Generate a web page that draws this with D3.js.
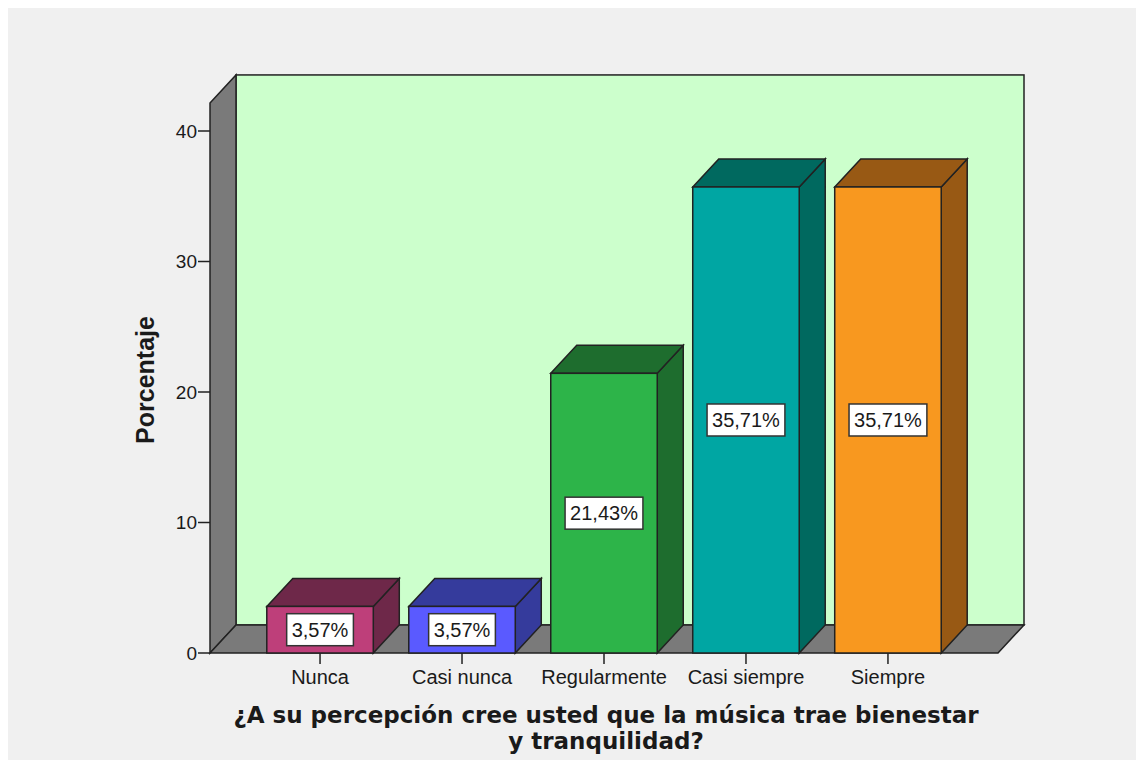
<!DOCTYPE html>
<meta charset="utf-8">
<style>
body { margin: 0; background: #fff; }
text { font-family: "Liberation Sans", Arial, sans-serif; fill: #1a1a1a; }
.title { font-weight: bold; }
</style>
<body>
<svg width="1136" height="760"></svg>
</body>
<script src="https://d3js.org/d3.v7.min.js"></script>
<script>

var categories = ["Nunca", "Casi nunca", "Regularmente", "Casi siempre", "Siempre"];
var percents = [3.57, 3.57, 21.43, 35.71, 35.71];
var frontColors = ["#be3f7a", "#5a5aff", "#2db449", "#00a6a3", "#f8981f"];
var darkColors = ["#6e2849", "#353b9c", "#1e6d2e", "#00695f", "#985914"];
var yTicks = [0, 10, 20, 30, 40];
var yTitle = "Porcentaje";
var xTitle = ["¿A su percepción cree usted que la música trae bienestar", "y tranquilidad?"];

var svg = d3.select("svg"),
    width = +svg.attr("width"),
    height = +svg.attr("height");

// depth of the 3d effect
var dx = 26, dy = 28;
var left = 210, right = 998;

var y = d3.scaleLinear().domain([0, 40]).range([653, 131]);
var yTop = 42.15;

var x = d3.scaleBand()
    .domain(categories)
    .range([left, right])
    .paddingInner(0.25)
    .paddingOuter(0.4);

var fmt = function(v) { return d3.format(".2f")(v).replace(".", ",") + "%"; };

svg.append("rect")
    .attr("x", 8).attr("y", 8)
    .attr("width", width - 8).attr("height", height - 8)
    .attr("fill", "#f0f0f0");

var stroke = "#222";

// back wall
svg.append("rect")
    .attr("x", left + dx).attr("y", y(yTop) - dy)
    .attr("width", right - left).attr("height", y(0) - y(yTop))
    .attr("fill", "#ccffcc")
    .attr("stroke", stroke).attr("stroke-width", 1.5);

// side wall
svg.append("polygon")
    .attr("points", [[left, y(yTop)], [left + dx, y(yTop) - dy], [left + dx, y(0) - dy], [left, y(0)]].join(" "))
    .attr("fill", "#7a7a7a")
    .attr("stroke", stroke).attr("stroke-width", 1.5);

// floor
svg.append("polygon")
    .attr("points", [[left, y(0)], [left + dx, y(0) - dy], [right + dx, y(0) - dy], [right, y(0)]].join(" "))
    .attr("fill", "#7a7a7a")
    .attr("stroke", stroke).attr("stroke-width", 1.5);

// y axis ticks
var yt = svg.append("g");
yt.selectAll("line").data(yTicks).enter().append("line")
    .attr("x1", left - 12).attr("x2", left)
    .attr("y1", function(d) { return y(d); })
    .attr("y2", function(d) { return y(d); })
    .attr("stroke", stroke).attr("stroke-width", 1.5);
yt.selectAll("text").data(yTicks).enter().append("text")
    .attr("x", left - 13)
    .attr("y", function(d) { return y(d); })
    .attr("dy", "0.35em")
    .attr("text-anchor", "end")
    .style("font-size", "19px")
    .text(function(d) { return d; });

// bars
var bars = svg.append("g").selectAll("g")
    .data(categories)
    .enter().append("g");

bars.each(function(c, i) {
  var g = d3.select(this);
  var x0 = x(c), x1 = x(c) + x.bandwidth();
  var yv = y(percents[i]), y0 = y(0);
  g.append("polygon")
      .attr("points", [[x1, yv], [x1 + dx, yv - dy], [x1 + dx, y0 - dy], [x1, y0]].join(" "))
      .attr("fill", darkColors[i])
      .attr("stroke", stroke).attr("stroke-width", 1.5);
  g.append("polygon")
      .attr("points", [[x0, yv], [x0 + dx, yv - dy], [x1 + dx, yv - dy], [x1, yv]].join(" "))
      .attr("fill", darkColors[i])
      .attr("stroke", stroke).attr("stroke-width", 1.5);
  g.append("rect")
      .attr("x", x0).attr("y", yv)
      .attr("width", x.bandwidth()).attr("height", y0 - yv)
      .attr("fill", frontColors[i])
      .attr("stroke", stroke).attr("stroke-width", 1.5);

  var cx = x0 + x.bandwidth() / 2, cy = y(percents[i] / 2);
  var box = g.append("rect");
  var t = g.append("text")
      .attr("x", cx).attr("y", cy)
      .attr("dy", "0.36em")
      .attr("text-anchor", "middle")
      .style("font-size", "20px")
      .text(fmt(percents[i]));
  var w = t.node().getComputedTextLength() + 10;
  box.attr("x", cx - w / 2).attr("y", cy - 16)
      .attr("width", w).attr("height", 32)
      .attr("fill", "#fff")
      .attr("stroke", "#333").attr("stroke-width", 1.5);
});

// x ticks and labels
var xt = svg.append("g");
xt.selectAll("line").data(categories).enter().append("line")
    .attr("x1", function(d) { return x(d) + x.bandwidth() / 2; })
    .attr("x2", function(d) { return x(d) + x.bandwidth() / 2; })
    .attr("y1", y(0)).attr("y2", y(0) + 11)
    .attr("stroke", stroke).attr("stroke-width", 1.5);
xt.selectAll("text").data(categories).enter().append("text")
    .attr("x", function(d) { return x(d) + x.bandwidth() / 2; })
    .attr("y", 684)
    .attr("text-anchor", "middle")
    .style("font-size", "20px")
    .text(function(d) { return d; });

// axis titles
svg.append("text")
    .attr("class", "title")
    .attr("transform", "translate(154," + 380 + ") rotate(-90)")
    .attr("text-anchor", "middle")
    .style("font-size", "25px")
    .text(yTitle);

svg.append("g").selectAll("text")
    .data(xTitle)
    .enter().append("text")
    .attr("class", "title")
    .attr("x", (left + right) / 2 + 2)
    .attr("y", function(d, i) { return 723 + i * 26; })
    .attr("text-anchor", "middle")
    .style("font-family", "'DejaVu Sans', Verdana, sans-serif")
    .style("font-size", "23px")
    .text(function(d) { return d; });

</script>
</html>
